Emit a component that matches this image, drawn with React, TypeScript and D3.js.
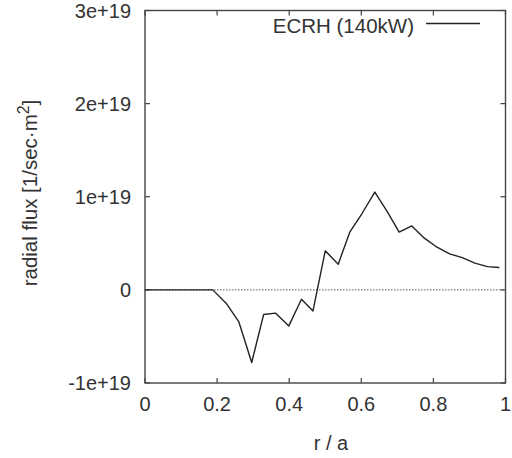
import React from "react";
import * as d3 from "d3";

const rValues = [0, 0.188, 0.225, 0.26, 0.296, 0.329, 0.3625, 0.399, 0.434, 0.466, 0.5, 0.536, 0.568, 0.602, 0.6375, 0.672, 0.705, 0.74, 0.775, 0.81, 0.845, 0.88, 0.915, 0.95, 0.983];
const fluxValues = [0, 0, -0.143e19, -0.34e19, -0.78e19, -0.265e19, -0.25e19, -0.387e19, -0.1e19, -0.226e19, 0.419e19, 0.276e19, 0.62e19, 0.82e19, 1.05e19, 0.84e19, 0.62e19, 0.687e19, 0.555e19, 0.458e19, 0.387e19, 0.347e19, 0.287e19, 0.25e19, 0.24e19];
const xTicks = [0, 0.2, 0.4, 0.6, 0.8, 1];
const xTickLabels = ["0", "0.2", "0.4", "0.6", "0.8", "1"];
const yTicks = [-1e19, 0, 1e19, 2e19, 3e19];
const yTickLabels = ["-1e+19", "0", "1e+19", "2e+19", "3e+19"];
const legendLabel = "ECRH (140kW)";

export default function App() {
  const left = 145, right = 505.5, top = 10.5, bottom = 383;
  const x = d3.scaleLinear().domain([0, 1]).range([left, right]);
  const y = d3.scaleLinear().domain([-1e19, 3e19]).range([bottom, top]);
  const line = d3.line<number>().x((_, i) => x(rValues[i])).y((d) => y(d));
  const tick = 5;
  const font = "'Liberation Sans', Arial, sans-serif";
  const textColor = "#333";
  const axisColor = "#444";
  return (
    <svg width={512} height={458} style={{ position: "absolute", left: 0, top: 0, background: "#fff" }} fontFamily={font}>
      <line x1={x(0)} x2={x(1)} y1={y(0)} y2={y(0)} stroke="#555" strokeWidth={1} strokeDasharray="1.5,1.5" />
      <rect x={left} y={top} width={right - left} height={bottom - top} fill="none" stroke={axisColor} strokeWidth={1.4} />
      {xTicks.map((t, i) => (
        <g key={"x" + i}>
          <line x1={x(t)} x2={x(t)} y1={bottom} y2={bottom - tick} stroke={axisColor} strokeWidth={1.2} />
          <line x1={x(t)} x2={x(t)} y1={top} y2={top + tick} stroke={axisColor} strokeWidth={1.2} />
          <text x={x(t)} y={411} textAnchor="middle" fontSize={20} fill={textColor}>{xTickLabels[i]}</text>
        </g>
      ))}
      {yTicks.map((t, i) => (
        <g key={"y" + i}>
          <line x1={left} x2={left + tick} y1={y(t)} y2={y(t)} stroke={axisColor} strokeWidth={1.2} />
          <line x1={right} x2={right - tick} y1={y(t)} y2={y(t)} stroke={axisColor} strokeWidth={1.2} />
          <text x={131} y={y(t) + 7} textAnchor="end" fontSize={20} fill={textColor}>{yTickLabels[i]}</text>
        </g>
      ))}
      <path d={line(fluxValues) || ""} fill="none" stroke="#222" strokeWidth={1.4} strokeLinejoin="round" />
      <text x={414} y={33} textAnchor="end" fontSize={20.5} fill={textColor}>{legendLabel}</text>
      <line x1={426} x2={480} y1={23.5} y2={23.5} stroke="#222" strokeWidth={1.3} />
      <text x={331} y={450} textAnchor="middle" fontSize={20} fill={textColor}>r / a</text>
      <text transform="translate(37,193) rotate(-90)" textAnchor="middle" fontSize={20.5} fill={textColor}>
        radial flux [1/sec·m<tspan dy={-8} fontSize={16}>2</tspan><tspan dy={8}>]</tspan>
      </text>
    </svg>
  );
}
